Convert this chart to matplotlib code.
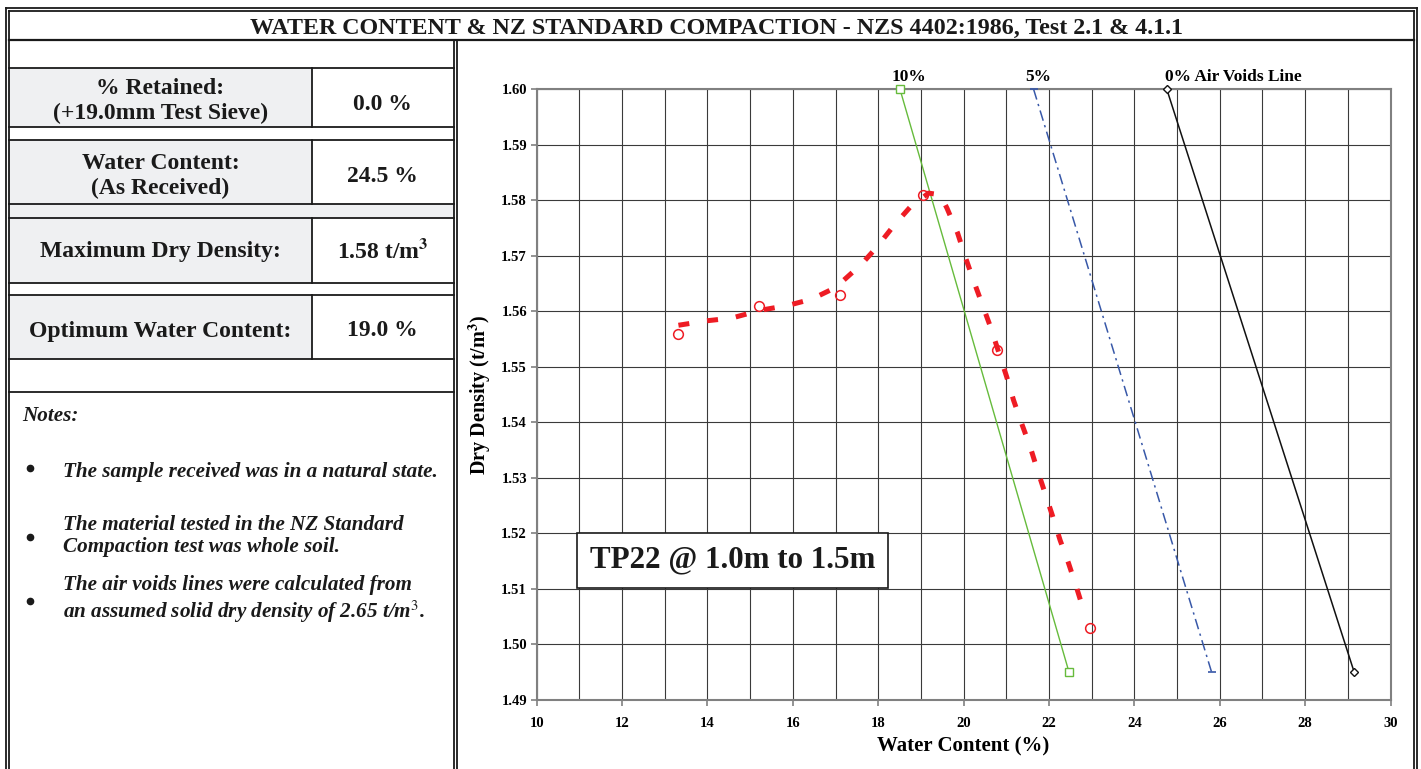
import numpy as np
import matplotlib.pyplot as plt
from matplotlib.ticker import MultipleLocator, FormatStrFormatter

plt.rcParams['font.family'] = ['Liberation Serif', 'DejaVu Serif']
plt.rcParams['mathtext.fontset'] = 'stix'

# compaction test points (water content %, dry density t/m3)
water = [13.30, 15.21, 17.11, 19.05, 20.79, 22.95]
density = [1.556, 1.561, 1.563, 1.581, 1.553, 1.503]

# fitted compaction curve, read along its length
curve_w = [13.32, 13.98, 14.57, 15.24, 15.90, 16.44, 17.03, 17.19, 17.61, 17.97,
           18.36, 18.75, 19.18, 19.45, 19.61, 19.86, 20.04, 20.23, 20.43, 20.63,
           21.01, 21.17, 21.36, 21.56, 21.73, 21.91, 22.09, 22.26, 22.46, 22.64, 22.85]
curve_d = [1.5575, 1.5583, 1.5588, 1.5602, 1.5611, 1.5622, 1.5644, 1.5656, 1.5685, 1.5716,
           1.5754, 1.5788, 1.5813, 1.5810, 1.5786, 1.5741, 1.5698, 1.5656, 1.5614, 1.5572,
           1.5482, 1.5440, 1.5398, 1.5356, 1.5314, 1.5272, 1.5230, 1.5188, 1.5146, 1.5104, 1.5052]

# air voids lines
av_density = [1.60, 1.495]
av10_w = [18.51, 22.47]
av5_w = [21.64, 25.81]
av0_w = [24.76, 29.15]

table_labels = ["% Retained:\n(+19.0mm Test Sieve)", "Water Content:\n(As Received)",
                "Maximum Dry Density:", "Optimum Water Content:"]
table_values = ["0.0 %", "24.5 %", "1.58 t/m$^{\\mathbf{3}}$", "19.0 %"]
notes = ["The sample received was in a natural state.",
         "The material tested in the NZ Standard\nCompaction test was whole soil.",
         "The air voids lines were calculated from\nan assumed solid dry density of 2.65 t/m$^{\\mathit{3}}$."]

W, H = 1421, 769
fig = plt.figure(figsize=(W / 100, H / 100), dpi=100)

# page frame drawn in pixel coordinates
bg = fig.add_axes([0, 0, 1, 1])
bg.set_xlim(0, W)
bg.set_ylim(H, 0)
bg.axis('off')

lw = 1.3
k = '#1a1a1a'
# double outer border
bg.plot([5.5, 5.5], [H, 7.5], color=k, lw=lw)
bg.plot([5.5, 1416.5], [7.5, 7.5], color=k, lw=lw)
bg.plot([1416.5, 1416.5], [7.5, H], color=k, lw=lw)
bg.plot([9, 9], [H, 10.5], color=k, lw=lw)
bg.plot([9, 1413.5], [10.5, 10.5], color=k, lw=lw)
bg.plot([1413.5, 1413.5], [10.5, H], color=k, lw=lw)
# title row
bg.plot([9, 1413.5], [40, 40], color=k, lw=1.6)
bg.text(716, 28, "WATER CONTENT & NZ STANDARD COMPACTION - NZS 4402:1986, Test 2.1 & 4.1.1",
        ha='center', va='center', fontsize=17.3, fontweight='bold', color=k)
# double divider between table and chart
bg.plot([453.5, 453.5], [40, H], color=k, lw=lw)
bg.plot([456.5, 456.5], [40, H], color=k, lw=lw)

# result table
rows = [(68, 127), (140, 204), (218, 283), (295, 359)]
label_y = [101, 176, 252, 331]
value_y = [104, 176, 251, 330]
bg.fill_between([9, 453.5], 204, 218, color='#eff0f2', lw=0)
for (y0, y1), ly, vy, lab, val in zip(rows, label_y, value_y, table_labels, table_values):
    bg.fill_between([9, 312], y0, y1, color='#eff0f2', lw=0)
    bg.plot([9, 453.5], [y0, y0], color=k, lw=lw)
    bg.plot([9, 453.5], [y1, y1], color=k, lw=lw)
    bg.plot([312, 312], [y0, y1], color=k, lw=lw)
    bg.text(160.5, ly, lab, ha='center', va='center', fontsize=17,
            fontweight='bold', color=k, linespacing=1.28)
    bg.text(382.5, vy, val, ha='center', va='center', fontsize=17,
            fontweight='bold', color=k)
bg.plot([9, 453.5], [392, 392], color=k, lw=lw)

# notes
bg.text(22, 416, "Notes:", ha='left', va='center', fontsize=15.2, fontweight='bold',
        style='italic', color=k)
note_y = [472, 536, 600]
bullet_y = [468, 537, 601]
for y, by, txt in zip(note_y, bullet_y, notes):
    bg.plot([30], [by], marker='o', ms=4.5, color=k, ls='none')
    bg.text(63, y, txt, ha='left', va='center', fontsize=15.2, fontweight='bold',
            style='italic', color=k, linespacing=1.15)

# compaction chart
x0, x1, ytop, ybot = 536.7, 1390.5, 89.3, 700.0
ax = fig.add_axes([x0 / W, 1 - ybot / H, (x1 - x0) / W, (ybot - ytop) / H])
ax.set_xlim(10, 30)
ax.set_ylim(1.49, 1.60)
ax.xaxis.set_major_locator(MultipleLocator(2))
ax.xaxis.set_minor_locator(MultipleLocator(1))
ax.yaxis.set_major_locator(MultipleLocator(0.01))
ax.yaxis.set_major_formatter(FormatStrFormatter('%.2f'))
ax.grid(which='both', axis='x', color='#3a3a3a', lw=0.8)
ax.grid(which='major', axis='y', color='#3a3a3a', lw=0.8)
for s in ax.spines.values():
    s.set_color('#808080')
    s.set_linewidth(1.5)
ax.tick_params(axis='x', which='major', length=4, width=1.2, color='#808080',
               labelsize=10.5, pad=8)
ax.tick_params(axis='x', which='minor', length=0)
ax.tick_params(axis='y', length=4, width=1.2, color='#808080', labelsize=10.5, pad=3)
for lab in ax.get_xticklabels() + ax.get_yticklabels():
    lab.set_fontweight('bold')
ax.set_xlabel("Water Content (%)", fontsize=15, fontweight='bold', labelpad=5)
ax.set_ylabel("Dry Density (t/m$^{\\mathbf{3}}$)", fontsize=14.5, fontweight='bold', labelpad=6)

ax.plot(av10_w, av_density, color='#66bb3c', lw=1.0, marker='s', ms=5.5, mfc='white',
        mec='#66bb3c', mew=1.0, clip_on=False, zorder=4)
ax.plot(av5_w, av_density, color='#3858a8', lw=1.1, ls=(0, (7, 3, 1.5, 3)), marker='_',
        ms=6, mec='#3858a8', mew=1.2, clip_on=False, zorder=4)
ax.plot(av0_w, av_density, color='#111111', lw=1.1, marker='D', ms=4.2, mfc='white',
        mec='#111111', mew=1.0, clip_on=False, zorder=4)

ax.plot(curve_w, curve_d, color='#ee1c24', lw=3.6, ls=(0, (2.2, 3.6)), zorder=5)
ax.plot(water, density, ls='none', marker='o', ms=7, mfc='none', mec='#ee1c24',
        mew=1.1, zorder=6)

ax.text(18.73, 1.6023, "10%", ha='center', va='center', fontsize=12.5, fontweight='bold')
ax.text(21.76, 1.6023, "5%", ha='center', va='center', fontsize=12.5, fontweight='bold')
ax.text(24.72, 1.6023, "0% Air Voids Line", ha='left', va='center', fontsize=12.5,
        fontweight='bold')

ax.text(0.2293, 0.2292, "TP22 @ 1.0m to 1.5m", transform=ax.transAxes, ha='center',
        va='center', fontsize=22.3, fontweight='bold', color=k, zorder=7,
        bbox=dict(boxstyle='square,pad=0.42', fc='white', ec=k, lw=1.2))

fig.savefig("out.png", dpi=100)
